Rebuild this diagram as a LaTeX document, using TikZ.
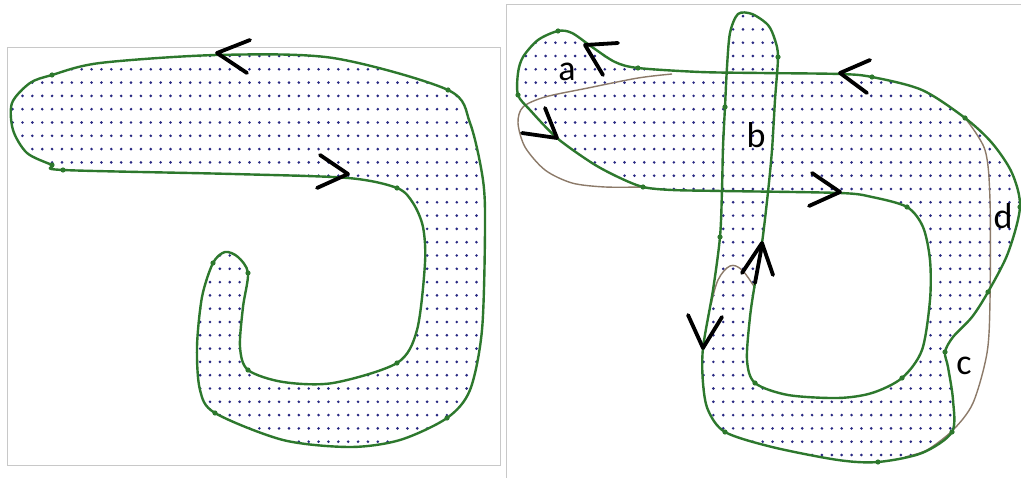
\documentclass[tikz,border=0pt]{standalone}
\usepackage{fontspec}
\newfontfamily\lblfont{Carlito}
\definecolor{gline}{RGB}{45,120,45}
\definecolor{bline}{RGB}{140,122,105}
\definecolor{dotc}{RGB}{40,40,130}
\definecolor{frame}{RGB}{200,200,200}
\tikzset{
  gpath/.style={draw=gline, line width=2.4pt, line join=round},
  bpath/.style={draw=bline, line width=1.4pt},
  arr/.style={draw=black, line width=3.8pt, line cap=round, line join=round},
  gdot/.style={fill=gline},
  lbl/.style={inner sep=0pt, font=\lblfont\fontsize{36}{36}\selectfont}
}
\def\leftshape{plot[smooth cycle, tension=0.5] coordinates {
 (448,90) (333,58) (217,55) (100,63) (52,75) (30,83) (12,103) (13,130) (27,153) (52,165) (63,170)
 (233,174) (348,178) (397,188) (413,203) (423,227) (425,263) (417,330) (397,363) (333,383) (283,382)
 (248,370) (240,347) (243,307) (248,273) (238,257) (225,252) (213,263) (202,297) (197,347) (200,390)
 (215,413) (283,440) (350,447) (400,440) (447,418) (470,390) (482,330) (485,230) (483,180) (470,123)}}
\def\rightshape{plot[smooth cycle, tension=0.5] coordinates {
 (840,74) (760,73) (700,72) (638,68) (615,62) (592,47) (572,33) (558,31) (538,40) (523,57) (518,73)
 (518,95) (530,110) (557,138) (592,163) (618,177) (643,187) (672,190) (722,191) (840,193) (872,197)
 (907,207) (923,227) (930,260) (930,300) (922,350) (902,378) (872,393) (838,398) (788,395) (755,383)
 (747,360) (750,317) (755,283) (762,243) (768,192) (772,150) (775,100) (778,57) (775,40) (768,25)
 (752,14) (738,14) (730,33) (727,67) (725,107) (723,147) (722,190) (720,237) (713,290) (703,348)
 (703,383) (708,410) (725,432) (772,447) (838,460) (878,462) (922,453) (952,432) (953,400) (948,367)
 (945,352) (953,337) (972,317) (988,292) (1008,253) (1020,207) (1012,173) (992,143) (965,118)
 (922,90) (872,77)}}
\begin{document}
\begin{tikzpicture}[x=1pt,y=-1pt]
\useasboundingbox (0,0) rectangle (1021,478);
\fill[white] (0,0) rectangle (1021,478);
% frames
\draw[frame, line width=1pt] (7,48) rectangle (500,466);
\draw[frame, line width=1pt] (506,478) -- (506,5) -- (1021,5);
% left dotted fill
\begin{scope}
  \clip \leftshape;
  \foreach \i in {0,...,49}{
    \foreach \j in {3,...,35}{
      \fill[dotc] (12.6+\i*9.87, 2.8+\j*13.3) circle (1.45);
    }
  }
\end{scope}
% right dotted fill
\begin{scope}
  \clip \rightshape;
  \foreach \i in {51,...,102}{
    \foreach \j in {0,...,35}{
      \fill[dotc] (12.6+\i*9.87, 2.8+\j*13.3) circle (1.45);
    }
  }
\end{scope}
% brown outline pieces
\draw[bpath] plot[smooth, tension=0.5] coordinates {(672,74) (638,78) (588,88) (545,97) (523,107) (518,123) (525,147) (545,170) (572,183) (605,187) (643,187)};
\draw[bpath] plot[smooth, tension=0.6] coordinates {(711,305) (718,280) (730,266) (742,270) (755,288)};
\draw[bpath] plot[smooth, tension=0.5] coordinates {(965,118) (985,150) (990,200) (990,300) (987,353) (973,403) (953,430) (927,450) (905,457)};
% green outlines
\draw[gpath] \leftshape;
\draw[gpath] \rightshape;
% green vertex dots
\foreach \p in {(52,75),(52,165),(63,170),(397,188),(397,363),(248,370),(248,273),(213,263),(215,413),(447,418),(448,90),
  (558,31),(638,68),(518,95),(643,187),(907,207),(902,378),(755,383),(778,57),(725,107),(720,237),(725,432),(878,462),(952,432),(945,352),(988,292),(1020,207),(965,118),(872,77)}
  \fill[gdot] \p circle (2.6);
% arrowheads
\draw[arr] (250,40) -- (217,53) -- (247,73);
\draw[arr] (320,155) -- (348,174) -- (317,188);
\draw[arr] (870,60) -- (840,73) -- (867,93);
\draw[arr] (618,43) -- (585,45) -- (603,75);
\draw[arr] (545,108) -- (557,138) -- (522,133);
\draw[arr] (812,173) -- (840,192) -- (809,206);
\draw[arr] (742,273) -- (762,243) -- (773,275);
\draw[arr] (762,245) -- (755,283);
\draw[arr] (688,315) -- (703,348) -- (722,317);
% labels
\node[lbl] (la) at (567,72) {a};
\node[lbl] (lb) at (756,135) {b};
\node[lbl] (ld) at (1003,216) {d};
\node[lbl] (lc) at (964,366) {c};
\end{tikzpicture}
\end{document}
